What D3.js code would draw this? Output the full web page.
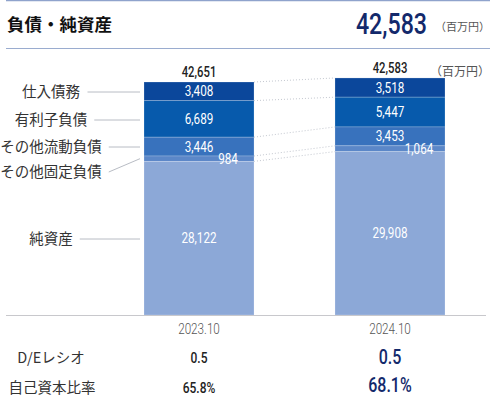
<!DOCTYPE html>
<html>
<head>
<meta charset="utf-8">
<script src="https://cdn.jsdelivr.net/npm/d3@7"></script>
<style>
body { margin: 0; background: #fff; }
svg { display: block; }
.num { font-family: Roboto, "DejaVu Sans", sans-serif; }
.jp { font-family: "Noto Sans CJK JP", "Noto Sans", sans-serif; }
</style>
</head>
<body>
<svg width="490" height="397"></svg>
<script>
"use strict";

const periods = ["2023.10", "2024.10"];
const categories = ["仕入債務", "有利子負債", "その他流動負債", "その他固定負債", "純資産"];
const values2023 = [3408, 6689, 3446, 984, 28122];
const values2024 = [3518, 5447, 3453, 1064, 29908];
const totals = [42651, 42583];
const deRatio = ["0.5", "0.5"];
const equityRatio = ["65.8%", "68.1%"];
const colors = ["#0b479b", "#075aac", "#3872bd", "#5b87c8", "#8ca8d7"];

const baseY = 315;
const topY = 82;
const navy = "#13296b";

window.addEventListener("load", init);

function fmt(v) { return d3.format(",")(v); }

// squeeze numbers horizontally around their anchor to mimic a condensed face
function condense(sel, k) {
    sel.each(function() {
        const t = d3.select(this);
        const ax = +t.attr("x") || 0;
        const prev = t.attr("transform") || "";
        t.attr("transform", `${prev} translate(${ax},0) scale(${k},1) translate(${-ax},0)`);
    });
}

function init() {
    const svg = d3.select("svg");

    // header
    svg.append("line").attr("x1", 6).attr("x2", 490).attr("y1", 0.5).attr("y2", 0.5)
        .attr("stroke", "#8fa3cc").attr("stroke-width", 1.5);
    svg.append("line").attr("x1", 6).attr("x2", 490).attr("y1", 48.5).attr("y2", 48.5)
        .attr("stroke", "#9aaccf").attr("stroke-width", 1);
    svg.append("text").attr("class", "jp").attr("x", 7).attr("y", 31)
        .attr("font-size", 17.5).attr("font-weight", "bold").attr("fill", "#111")
        .text("負債・純資産");
    svg.append("text").attr("class", "num").attr("x", 427).attr("y", 34.5)
        .attr("text-anchor", "end").attr("font-size", 29).attr("font-weight", 500).attr("fill", navy)
        .text(fmt(totals[1]))
        .call(condense, 0.8);
    svg.append("text").attr("class", "jp").attr("x", 490).attr("y", 31)
        .attr("text-anchor", "end").attr("font-size", 11).attr("fill", "#555")
        .text("（百万円）");

    const x = d3.scaleBand().domain(periods).range([144, 445]).paddingInner(0.424);
    const y = d3.scaleLinear().domain([0, totals[0]]).range([baseY, topY]);

    // stack from bottom: 純資産 first
    const seriesByPeriod = periods.map((p, pi) => {
        const vals = pi === 0 ? values2023 : values2024;
        let acc = 0;
        const segs = [];
        for (let i = vals.length - 1; i >= 0; i--) {
            segs[i] = { cat: categories[i], idx: i, v: vals[i], y0: acc, y1: acc + vals[i], period: p };
            acc += vals[i];
        }
        return { period: p, segs: segs, total: acc };
    });

    // connector dotted lines between bars
    const b0 = seriesByPeriod[0], b1 = seriesByPeriod[1];
    const x0r = x(periods[0]) + x.bandwidth();
    const x1l = x(periods[1]);
    const conn = b0.segs.map((s, i) => [s.y1, b1.segs[i].y1]);
    svg.selectAll(".conn").data(conn).join("line")
        .attr("x1", x0r).attr("x2", x1l)
        .attr("y1", d => y(d[0])).attr("y2", d => y(d[1]))
        .attr("stroke", "#c4c8d0").attr("stroke-width", 1)
        .attr("stroke-dasharray", "1,2");

    // bars
    const groups = svg.selectAll(".bar").data(seriesByPeriod).join("g");
    groups.selectAll("rect").data(d => d.segs).join("rect")
        .attr("x", d => x(d.period))
        .attr("width", x.bandwidth())
        .attr("y", d => y(d.y1))
        .attr("height", d => y(d.y0) - y(d.y1))
        .attr("fill", d => colors[d.idx])
        .attr("stroke", "rgba(255,255,255,0.25)").attr("stroke-width", 0.8);

    // segment labels
    groups.selectAll(".lbl").data(d => d.segs).join("text")
        .attr("class", "num")
        .attr("x", d => x(d.period) + x.bandwidth() / 2 + (d.idx === 3 ? 29 : 0))
        .attr("y", d => (y(d.y0) + y(d.y1)) / 2 + 5)
        .attr("text-anchor", "middle")
        .attr("font-size", 15).attr("fill", "#fff")
        .text(d => fmt(d.v))
        .call(condense, 0.78);

    // totals on top
    svg.selectAll(".tot").data(seriesByPeriod).join("text")
        .attr("class", "num")
        .attr("x", d => x(d.period) + x.bandwidth() / 2)
        .attr("y", d => y(d.total) - 5)
        .attr("text-anchor", "middle").attr("font-size", 14.5).attr("font-weight", 500).attr("fill", "#222")
        .text((d, i) => fmt(totals[i]))
        .call(condense, 0.78);
    svg.append("text").attr("class", "jp").attr("x", 490).attr("y", 76)
        .attr("text-anchor", "end").attr("font-size", 12).attr("fill", "#555")
        .text("（百万円）");

    // category labels on the left with leader lines
    const labelY = [92, 120, 147, 172, 239];
    const leftBar = x(periods[0]);
    categories.forEach((c, i) => {
        const t = svg.append("text").attr("class", "jp")
            .attr("x", 51).attr("y", labelY[i] + 5)
            .attr("text-anchor", "middle").attr("font-size", 14.5).attr("fill", "#333")
            .text(c);
        const bb = t.node().getBBox();
        const s = b0.segs[i];
        const segMid = i === 3 ? (y(s.y0) + y(s.y1)) / 2 : labelY[i];
        svg.append("line")
            .attr("x1", bb.x + bb.width + 7).attr("y1", labelY[i])
            .attr("x2", leftBar - 4).attr("y2", segMid)
            .attr("stroke", "#b8bcc4").attr("stroke-width", 1);
    });

    // baseline
    svg.append("line").attr("x1", 6).attr("x2", 486).attr("y1", baseY + 0.5).attr("y2", baseY + 0.5)
        .attr("stroke", "#c8c8cc").attr("stroke-width", 1);

    // x-axis labels
    const axis = d3.axisBottom(x).tickSize(0).tickPadding(8);
    const ax = svg.append("g").attr("transform", `translate(0,${baseY})`).call(axis);
    ax.select(".domain").remove();
    ax.selectAll("text").attr("class", "num").attr("font-size", 15).attr("font-weight", 300).attr("fill", "#555")
        .call(condense, 0.78);

    // ratio rows
    svg.append("text").attr("class", "jp").attr("x", 51).attr("y", 363)
        .attr("text-anchor", "middle").attr("font-size", 14.5).attr("fill", "#333").text("D/Eレシオ");
    svg.append("text").attr("class", "jp").attr("x", 52).attr("y", 393)
        .attr("text-anchor", "middle").attr("font-size", 14.5).attr("fill", "#333").text("自己資本比率");

    svg.selectAll(".de").data(deRatio).join("text")
        .attr("class", "num")
        .attr("x", (d, i) => x(periods[i]) + x.bandwidth() / 2)
        .attr("y", (d, i) => i === 0 ? 363 : 364)
        .attr("text-anchor", "middle")
        .attr("font-size", (d, i) => i === 0 ? 15 : 20)
        .attr("font-weight", 500)
        .attr("fill", (d, i) => i === 0 ? "#222" : navy)
        .text(d => d)
        .call(condense, 0.8);
    svg.selectAll(".eq").data(equityRatio).join("text")
        .attr("class", "num")
        .attr("x", (d, i) => x(periods[i]) + x.bandwidth() / 2)
        .attr("y", (d, i) => i === 0 ? 393 : 392.5)
        .attr("text-anchor", "middle")
        .attr("font-size", (d, i) => i === 0 ? 15 : 20)
        .attr("font-weight", 500)
        .attr("fill", (d, i) => i === 0 ? "#222" : navy)
        .text(d => d)
        .call(condense, 0.8);
}
</script>
</body>
</html>
